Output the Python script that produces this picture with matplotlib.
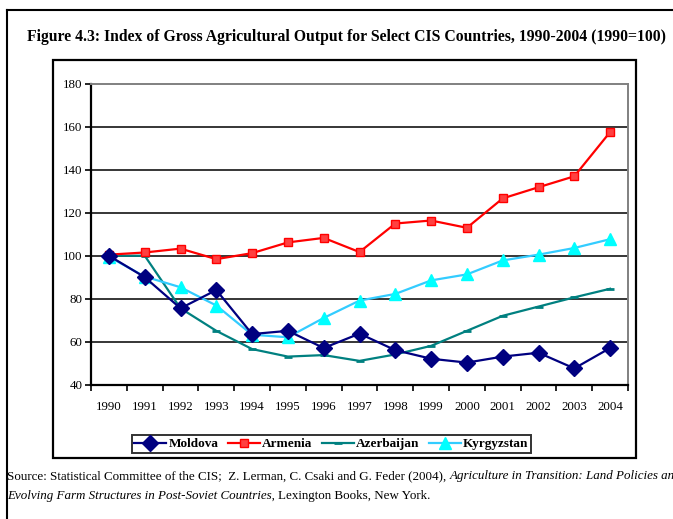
import numpy as np
import matplotlib
matplotlib.use('Agg')
import matplotlib.pyplot as plt
from matplotlib.lines import Line2D
from matplotlib.patches import Rectangle

plt.rcParams['font.family'] = ['Liberation Serif', 'DejaVu Serif']

# data (1990 = 100)
years = ['1990', '1991', '1992', '1993', '1994', '1995', '1996', '1997',
         '1998', '1999', '2000', '2001', '2002', '2003', '2004']
moldova = [100, 90, 75.5, 84, 63.5, 65, 57, 63.7, 56, 52, 50.2, 53, 54.8, 47.5, 57]
armenia = [100.5, 101.5, 103.3, 98.4, 101.2, 106.2, 108.3, 101.7, 115, 116.4, 113, 126.7, 131.9, 137, 157.6]
azerbaijan = [100, 100, 75.5, 65, 56.5, 53, 53.7, 51, 54, 58, 65, 72, 76.3, 80.6, 84.6]
kyrgyzstan = [99.5, 90.3, 85.3, 76.8, 63.2, 62, 71, 79.1, 82.2, 88.5, 91.3, 97.8, 100.5, 103.6, 107.7]

W, H = 673, 519
fig = plt.figure(figsize=(W / 100, H / 100), dpi=100)

def fx(px):
    return px / W

def fy(py):
    return 1 - py / H

# outer frame (left + top edges) and inner chart box
fig.add_artist(Line2D([fx(7), fx(7)], [fy(10), 0], transform=fig.transFigure, color='black', lw=1.5))
fig.add_artist(Line2D([fx(7), 1], [fy(10), fy(10)], transform=fig.transFigure, color='black', lw=1.5))
fig.add_artist(Rectangle((fx(53), fy(458)), fx(636) - fx(53), fy(60) - fy(458),
                         transform=fig.transFigure, fill=False, edgecolor='black', lw=1.6))

fig.text(fx(347), fy(37), 'Figure 4.3: Index of Gross Agricultural Output for Select CIS Countries, 1990-2004 (1990=100)',
         ha='center', va='center', fontsize=11.3, fontweight='bold')

ax = fig.add_axes([fx(91), fy(384.5), fx(628) - fx(91), fy(84) - fy(384.5)])
x = np.arange(len(years))

ax.plot(x, moldova, color='#000080', lw=1.6, marker='D', ms=8.5, mfc='#000080', mec='#000080', label='Moldova', zorder=5)
ax.plot(x, armenia, color='#ff0000', lw=1.6, marker='s', ms=6, mfc='#ff4040', mec='#ff0000', label='Armenia', zorder=4)
ax.plot(x, azerbaijan, color='#008080', lw=1.6, marker='_', ms=6, mew=2, label='Azerbaijan', zorder=3)
ax.plot(x, kyrgyzstan, color='#33ccff', lw=1.6, marker='^', ms=8, mfc='#00ffff', mec='#00ffff', label='Kyrgyzstan', zorder=4)

ax.set_xlim(-0.5, len(years) - 0.5)
ax.set_ylim(40, 180)
ax.set_yticks(np.arange(40, 181, 20))
ax.set_xticks(x)
ax.set_xticklabels(years)
ax.set_xticks(np.arange(-0.5, len(years), 1), minor=True)
ax.tick_params(axis='x', which='major', length=0, labelsize=9.3, pad=12)
ax.tick_params(axis='x', which='minor', length=4, width=1.2, direction='out')
ax.tick_params(axis='y', length=4, width=1.2, labelsize=9.3, pad=2)

for yv in range(60, 180, 20):
    ax.axhline(yv, color='black', lw=1.1, zorder=1)

ax.spines['left'].set_color('black')
ax.spines['left'].set_linewidth(1.6)
ax.spines['bottom'].set_color('black')
ax.spines['bottom'].set_linewidth(1.6)
ax.spines['top'].set_color('#808080')
ax.spines['top'].set_linewidth(1.4)
ax.spines['right'].set_color('#808080')
ax.spines['right'].set_linewidth(1.4)

leg = fig.legend(loc='center', bbox_to_anchor=(fx(331.5), fy(444)), ncol=4, frameon=True, fancybox=False,
                 edgecolor='black', prop={'size': 9.5, 'weight': 'bold'}, handlelength=2.4, handletextpad=0.2,
                 columnspacing=0.7, borderpad=0.2)
leg.get_frame().set_linewidth(1.4)

# source note, mixed upright / italic
src1 = fig.text(fx(7), fy(476), 'Source: Statistical Committee of the CIS;  Z. Lerman, C. Csaki and G. Feder (2004), ',
                fontsize=9.4, va='center')
fig.canvas.draw()
bb = src1.get_window_extent()
fig.text(bb.x1 / W, fy(476), 'Agriculture in Transition: Land Policies and',
         fontsize=9.4, va='center', style='italic')
src2 = fig.text(fx(7), fy(496), 'Evolving Farm Structures in Post-Soviet Countries, ', fontsize=9.4, va='center', style='italic')
fig.canvas.draw()
bb2 = src2.get_window_extent()
fig.text(bb2.x1 / W, fy(496), 'Lexington Books, New York.', fontsize=9.4, va='center')

fig.savefig('out.png', dpi=100)
